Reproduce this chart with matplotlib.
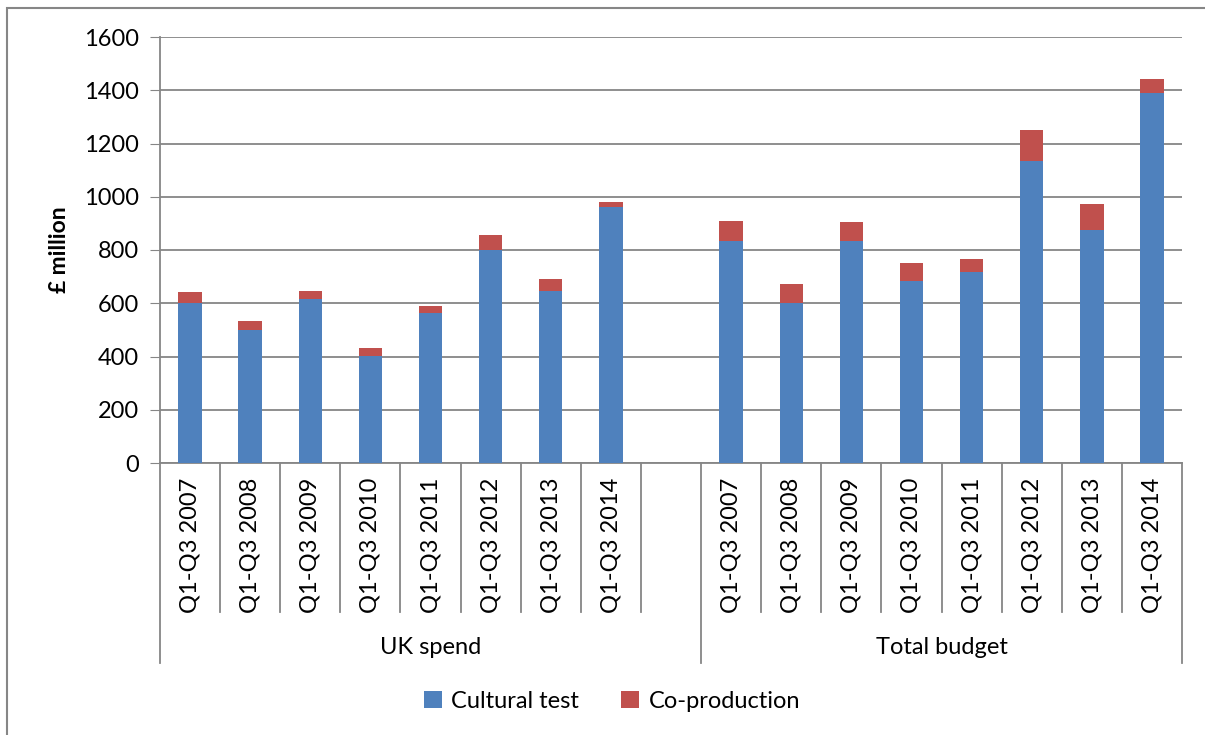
import numpy as np
import matplotlib.pyplot as plt
from matplotlib.patches import Rectangle
from matplotlib.lines import Line2D

OUTPUT_PLOT_FILE = "out.png"

periods = ["Q1-Q3 2007", "Q1-Q3 2008", "Q1-Q3 2009", "Q1-Q3 2010",
           "Q1-Q3 2011", "Q1-Q3 2012", "Q1-Q3 2013", "Q1-Q3 2014"]
groups = ["UK spend", "Total budget"]

# £ million
uk_cultural = [600, 498, 616, 403, 564, 800, 647, 960]
uk_coprod = [42, 34, 29, 30, 25, 55, 44, 20]
total_cultural = [835, 600, 835, 682, 716, 1135, 874, 1390]
total_coprod = [73, 73, 69, 69, 50, 115, 97, 53]

BLUE = "#4F81BD"
RED = "#C0504D"
GRID = "#868686"
FONT = "Lato"
FS = 17


def plot_chart():
    plt.rcParams['font.family'] = [FONT, 'DejaVu Sans']
    fig = plt.figure(figsize=(12.05, 7.35), dpi=100)
    W, H = 1205, 735
    ax = fig.add_axes([160 / W, 1 - 463 / H, (1182 - 160) / W, (463 - 37) / H])

    n = len(periods)
    x_uk = np.arange(n)
    x_tot = np.arange(n) + n + 1
    x = np.concatenate([x_uk, x_tot])
    cultural = uk_cultural + total_cultural
    coprod = uk_coprod + total_coprod

    ax.bar(x, cultural, width=0.39, color=BLUE, label="Cultural test", zorder=3)
    ax.bar(x, coprod, width=0.39, bottom=cultural, color=RED,
           label="Co-production", zorder=3)

    ax.set_xlim(-0.5, 2 * n + 0.5)
    ax.set_ylim(0, 1600)
    ax.set_yticks(range(0, 1601, 200))
    ax.tick_params(axis='y', labelsize=FS, length=7, color=GRID, pad=8)
    ax.set_xticks([])
    ax.grid(axis='y', color=GRID, linewidth=1.3, zorder=0)
    for side in ['top', 'right']:
        ax.spines[side].set_visible(False)
    for side in ['left', 'bottom']:
        ax.spines[side].set_color(GRID)
        ax.spines[side].set_linewidth(1.3)
    ax.set_ylabel("£ million", fontsize=16.5, fontweight='bold', labelpad=10)

    # category labels and separators below the axis
    trans = ax.get_xaxis_transform()
    ax_h = 463 - 37
    short_end = -(612 - 463) / ax_h
    long_end = -(663 - 463) / ax_h
    for xi, lab in zip(x, periods + periods):
        ax.text(xi, -0.035, lab, transform=trans, rotation=90, ha='center',
                va='top', fontsize=FS)
    for b in np.arange(-0.5, 2 * n + 1, 1.0):
        end = long_end if b in (-0.5, n + 0.5, 2 * n + 0.5) else short_end
        ax.add_line(Line2D([b, b], [0, end], transform=trans, color=GRID,
                           linewidth=1.3, clip_on=False))
    ax.text((n - 1) / 2 + 0.5, -(647 - 463) / ax_h, groups[0], transform=trans,
            ha='center', va='center', fontsize=FS)
    ax.text(n + 1 + (n - 1) / 2, -(647 - 463) / ax_h, groups[1], transform=trans,
            ha='center', va='center', fontsize=FS)

    fig.legend(loc='center', bbox_to_anchor=(612 / W, 1 - 701 / H), ncol=2,
               frameon=False, fontsize=FS, handlelength=0.75,
               handleheight=0.75, handletextpad=0.4, columnspacing=1.8)

    # outer chart frame
    fig.patches.append(Rectangle((7 / W, -0.1), 1.1, 1 - 7.5 / H + 0.1,
                                 transform=fig.transFigure, fill=False,
                                 edgecolor=GRID, linewidth=1.5))

    fig.savefig(OUTPUT_PLOT_FILE, dpi=100)


def main():
    plot_chart()


if __name__ == "__main__":
    main()
